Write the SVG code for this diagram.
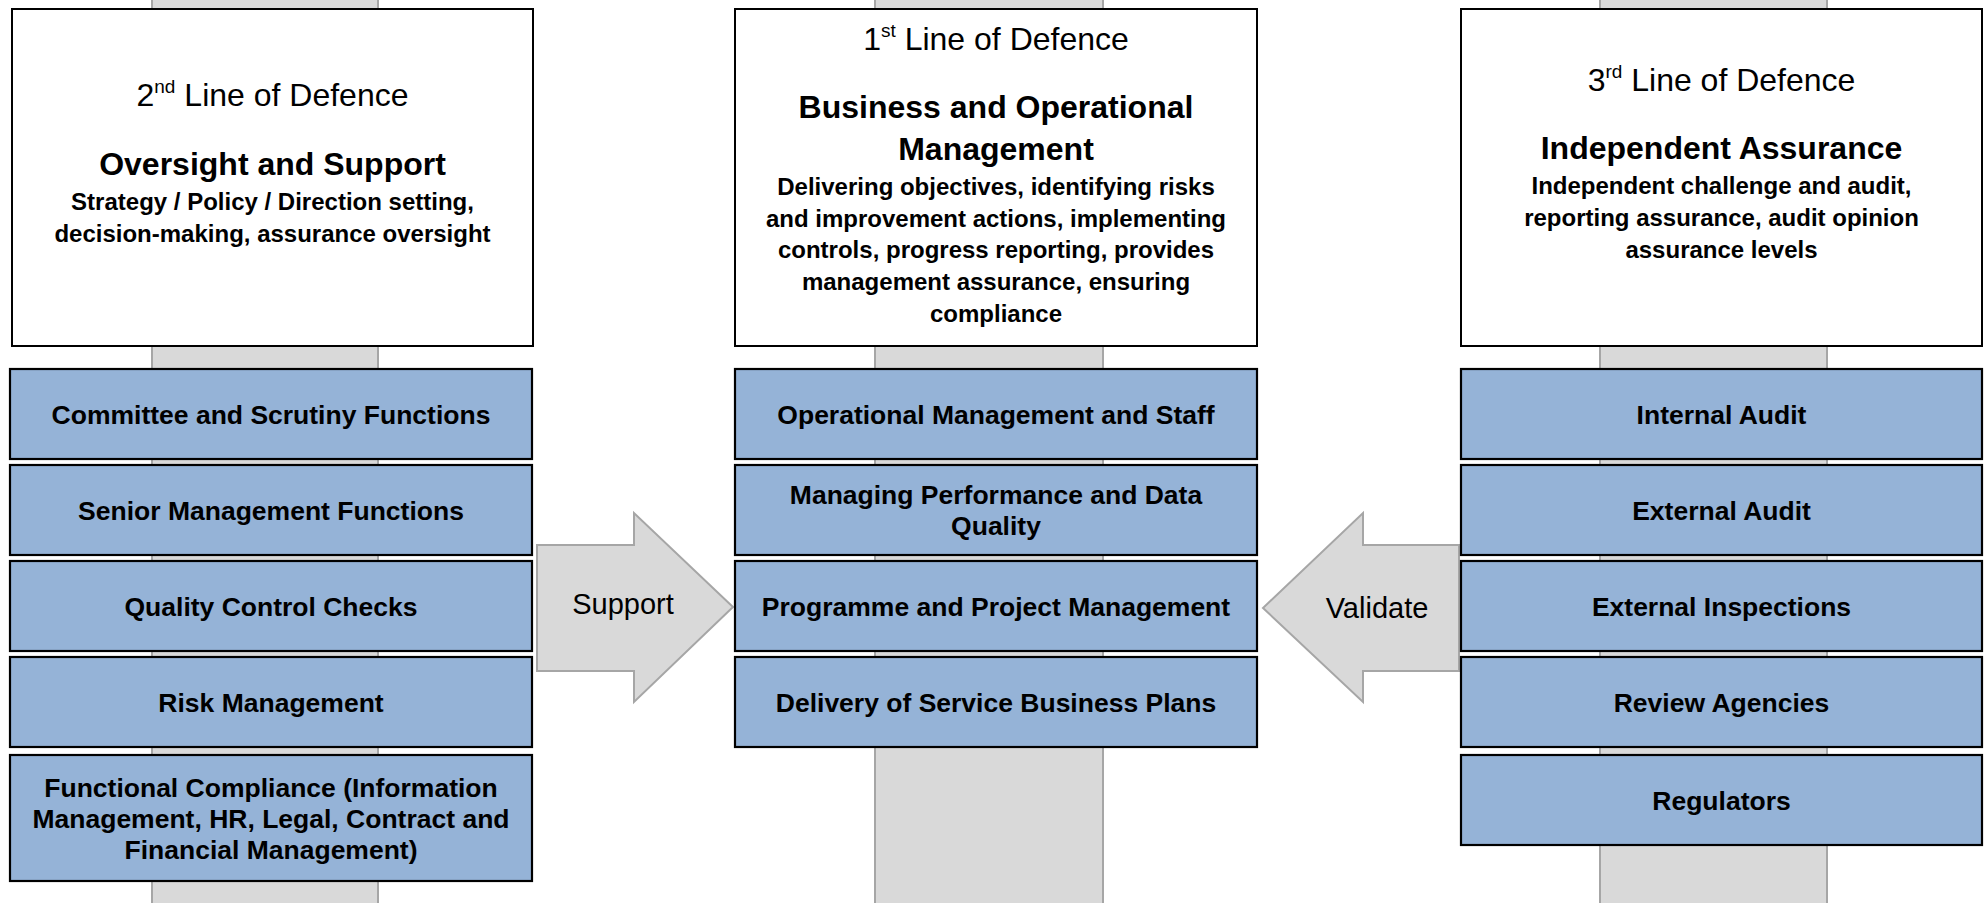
<svg xmlns="http://www.w3.org/2000/svg" width="1986" height="903" viewBox="0 0 1986 903">
  <style>
    text { font-family: "Liberation Sans", Arial, Helvetica, sans-serif; fill: #000; text-anchor: middle; }
    .pillar { fill: #d9d9d9; stroke: #a6a6a6; stroke-width: 2; }
    .head { fill: #fff; stroke: #000; stroke-width: 2; }
    .item { fill: #95b3d7; stroke: #000; stroke-width: 2.2; }
    .arrow { fill: #d9d9d9; stroke: #a6a6a6; stroke-width: 2; }
    .line { font-size: 32px; }
    .title { font-size: 32px; font-weight: bold; }
    .desc { font-size: 24px; font-weight: bold; }
    .lbl { font-size: 26.5px; font-weight: bold; }
    .verb { font-size: 29px; }
  </style>

  <!-- background pillars behind each column -->
  <g id="pillars">
    <rect class="pillar" x="152" y="-5" width="226" height="915"/>
    <rect class="pillar" x="875" y="-5" width="228" height="915"/>
    <rect class="pillar" x="1600" y="-5" width="227" height="915"/>
  </g>

  <!-- connectors between the lines of defence -->
  <g id="connectors">
    <g id="support">
      <polygon class="arrow" points="537,545 634,545 634,513 733,607 634,702 634,671 537,671"/>
      <text class="verb" x="623" y="614">Support</text>
    </g>
    <g id="validate">
      <polygon class="arrow" points="1459,545 1363,545 1363,513 1263,608 1363,702 1363,671 1459,671"/>
      <text class="verb" x="1377" y="618">Validate</text>
    </g>
  </g>

  <!-- 2nd line of defence -->
  <g id="second-line">
    <rect class="head" x="12" y="9" width="521" height="337"/>
    <text class="line" x="272.5" y="106">2<tspan font-size="19" dy="-13">nd</tspan><tspan dy="13"> Line of Defence</tspan></text>
    <text class="title" x="272.5" y="175">Oversight and Support</text>
    <text class="desc" x="272.5" y="210">Strategy / Policy / Direction setting,</text>
    <text class="desc" x="272.5" y="242">decision-making, assurance oversight</text>
  </g>
  <g id="committee">
    <rect class="item" x="10" y="369" width="522" height="90"/>
    <text class="lbl" x="271" y="424">Committee and Scrutiny Functions</text>
  </g>
  <g id="senior-management">
    <rect class="item" x="10" y="465" width="522" height="90"/>
    <text class="lbl" x="271" y="520">Senior Management Functions</text>
  </g>
  <g id="quality-control">
    <rect class="item" x="10" y="561" width="522" height="90"/>
    <text class="lbl" x="271" y="616">Quality Control Checks</text>
  </g>
  <g id="risk-management">
    <rect class="item" x="10" y="657" width="522" height="90"/>
    <text class="lbl" x="271" y="712">Risk Management</text>
  </g>
  <g id="functional-compliance">
    <rect class="item" x="10" y="755" width="522" height="126"/>
    <text class="lbl" x="271" y="797">Functional Compliance (Information</text>
    <text class="lbl" x="271" y="828">Management, HR, Legal, Contract and</text>
    <text class="lbl" x="271" y="859">Financial Management)</text>
  </g>

  <!-- 1st line of defence -->
  <g id="first-line">
    <rect class="head" x="735" y="9" width="522" height="337"/>
    <text class="line" x="996" y="50">1<tspan font-size="19" dy="-13">st</tspan><tspan dy="13"> Line of Defence</tspan></text>
    <text class="title" x="996" y="118">Business and Operational</text>
    <text class="title" x="996" y="160">Management</text>
    <text class="desc" x="996" y="195">Delivering objectives, identifying risks</text>
    <text class="desc" x="996" y="227">and improvement actions, implementing</text>
    <text class="desc" x="996" y="258">controls, progress reporting, provides</text>
    <text class="desc" x="996" y="290">management assurance, ensuring</text>
    <text class="desc" x="996" y="322">compliance</text>
  </g>
  <g id="operational-management">
    <rect class="item" x="735" y="369" width="522" height="90"/>
    <text class="lbl" x="996" y="424">Operational Management and Staff</text>
  </g>
  <g id="managing-performance">
    <rect class="item" x="735" y="465" width="522" height="90"/>
    <text class="lbl" x="996" y="504">Managing Performance and Data</text>
    <text class="lbl" x="996" y="535">Quality</text>
  </g>
  <g id="programme-management">
    <rect class="item" x="735" y="561" width="522" height="90"/>
    <text class="lbl" x="996" y="616">Programme and Project Management</text>
  </g>
  <g id="business-plans">
    <rect class="item" x="735" y="657" width="522" height="90"/>
    <text class="lbl" x="996" y="712">Delivery of Service Business Plans</text>
  </g>

  <!-- 3rd line of defence -->
  <g id="third-line">
    <rect class="head" x="1461" y="9" width="521" height="337"/>
    <text class="line" x="1721.5" y="91">3<tspan font-size="19" dy="-13">rd</tspan><tspan dy="13"> Line of Defence</tspan></text>
    <text class="title" x="1721.5" y="159">Independent Assurance</text>
    <text class="desc" x="1721.5" y="194">Independent challenge and audit,</text>
    <text class="desc" x="1721.5" y="226">reporting assurance, audit opinion</text>
    <text class="desc" x="1721.5" y="258">assurance levels</text>
  </g>
  <g id="internal-audit">
    <rect class="item" x="1461" y="369" width="521" height="90"/>
    <text class="lbl" x="1721.5" y="424">Internal Audit</text>
  </g>
  <g id="external-audit">
    <rect class="item" x="1461" y="465" width="521" height="90"/>
    <text class="lbl" x="1721.5" y="520">External Audit</text>
  </g>
  <g id="external-inspections">
    <rect class="item" x="1461" y="561" width="521" height="90"/>
    <text class="lbl" x="1721.5" y="616">External Inspections</text>
  </g>
  <g id="review-agencies">
    <rect class="item" x="1461" y="657" width="521" height="90"/>
    <text class="lbl" x="1721.5" y="712">Review Agencies</text>
  </g>
  <g id="regulators">
    <rect class="item" x="1461" y="755" width="521" height="90"/>
    <text class="lbl" x="1721.5" y="810">Regulators</text>
  </g>
</svg>
